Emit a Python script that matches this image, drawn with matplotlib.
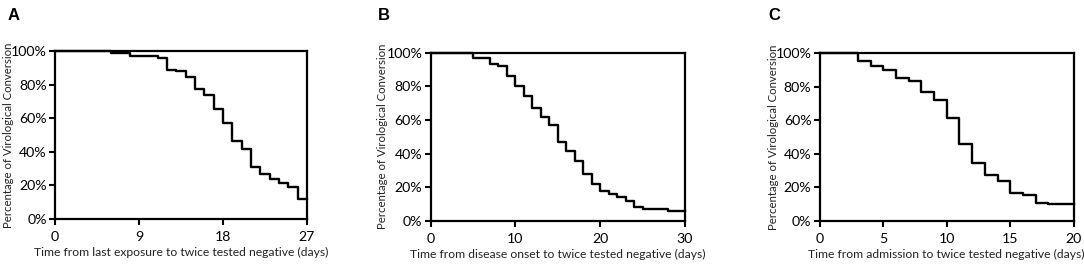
import numpy as np
import matplotlib; matplotlib.use('Agg')
import matplotlib.pyplot as plt
from matplotlib.ticker import PercentFormatter

plt.rcParams['font.family'] = ['Lato', 'DejaVu Sans']

# ---- data (day, % not yet converted) ----
days_a = [0, 6, 8, 11, 12, 13, 14, 15, 16, 17, 18, 19, 20, 21, 22, 23, 24, 25, 26, 27]
pct_a = [100, 98.6, 97.2, 96.0, 89.0, 88.0, 84.3, 77.2, 73.6, 65.5, 57.1, 46.2, 41.5,
         31.2, 26.6, 24.0, 21.6, 19.0, 11.9, 11.9]

days_b = [0, 5, 7, 8, 9, 10, 11, 12, 13, 14, 15, 16, 17, 18, 19, 20, 21, 22, 23, 24,
          25, 28, 30]
pct_b = [100, 96.6, 93.3, 92.0, 86.0, 80.0, 74.0, 67.0, 61.5, 57.0, 47.0, 41.7, 35.5,
         27.8, 21.6, 17.9, 15.9, 14.3, 11.7, 8.3, 6.9, 5.8, 5.8]

days_c = [0, 3, 4, 5, 6, 7, 8, 9, 10, 11, 12, 13, 14, 15, 16, 17, 18, 20]
pct_c = [100, 95.4, 92.5, 89.7, 85.3, 83.1, 76.8, 72.2, 61.5, 45.8, 34.3, 27.2, 23.6,
         16.5, 15.7, 11.0, 10.0, 10.0]

letters = ['A', 'B', 'C']
xlabels = ['Time from last exposure to twice tested negative (days)',
           'Time from disease onset to twice tested negative (days)',
           'Time from admission to twice tested negative (days)']
xticks = [[0, 9, 18, 27], [0, 10, 20, 30], [0, 5, 10, 15, 20]]
ylabel = 'Percentage of Virological Conversion'

# axes boxes [left, bottom, width, height] in figure fraction
boxes = [[0.0507, 0.1767, 0.2325, 0.6313],
         [0.3973, 0.1700, 0.2346, 0.6320],
         [0.7562, 0.1690, 0.2343, 0.6320]]
letter_x = [0.007, 0.349, 0.709]
ylab_x = [-0.186, -0.19, -0.183]

fig = plt.figure(figsize=(10.84, 2.66), dpi=100)

for i, (d, p) in enumerate([(days_a, pct_a), (days_b, pct_b), (days_c, pct_c)]):
    ax = fig.add_axes(boxes[i])
    ax.step(d, p, where='post', color='black', lw=1.7, clip_on=False)
    ax.set_xlim(xticks[i][0], xticks[i][-1])
    ax.set_ylim(0, 100)
    ax.set_xticks(xticks[i])
    ax.set_yticks([0, 20, 40, 60, 80, 100])
    ax.yaxis.set_major_formatter(PercentFormatter(decimals=0))
    for s in ax.spines.values():
        s.set_linewidth(1.6)
    ax.tick_params(length=4.5, width=1.5, labelsize=10.2, colors='black')
    ax.tick_params(axis='x', pad=4)
    ax.tick_params(axis='y', pad=1.5)
    ax.set_xlabel(xlabels[i], fontsize=8.7, labelpad=3, color='#222222')
    ax.set_ylabel(ylabel, fontsize=8.2, color='#222222', va='center')
    ax.yaxis.set_label_coords(ylab_x[i], 0.5)
    fig.text(letter_x[i], 0.94, letters[i], fontsize=12, fontweight='bold',
             family=['Liberation Sans', 'DejaVu Sans'], va='center')

fig.savefig('out.png', dpi=100)
